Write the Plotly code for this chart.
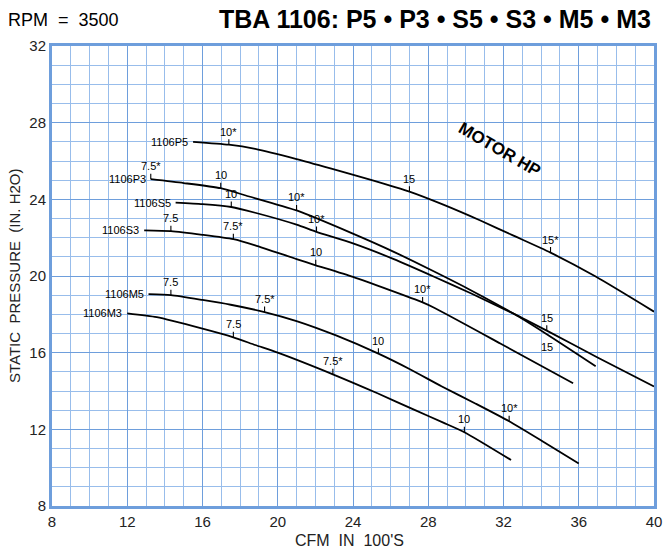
import plotly.graph_objects as go

# ---------------- data ----------------
P5_x = [15.5, 17.4, 18.8, 21.0, 22.85, 25.0, 27.0, 28.8, 30.8, 32.5, 34.5, 36.9, 40.0]
P5_y = [27.0, 26.85, 26.63, 26.1, 25.6, 25.0, 24.4, 23.72, 22.88, 22.12, 21.22, 19.97, 18.14]

P3_x = [13.25, 15.0, 16.97, 18.3, 21.0, 23.9, 26.17, 28.34, 30.26, 32.53, 34.3, 36.9]
P3_y = [25.05, 24.85, 24.58, 24.2, 23.42, 22.25, 21.26, 20.22, 19.26, 18.04, 16.96, 15.29]

S5_x = [14.57, 16.0, 17.53, 18.8, 21.0, 22.06, 24.0, 26.17, 28.34, 30.26, 32.53, 34.3, 37.0, 40.0]
S5_y = [23.83, 23.75, 23.6, 23.3, 22.68, 22.3, 21.7, 20.88, 19.95, 19.1, 18.04, 17.15, 15.75, 14.24]

S3_x = [12.9, 14.32, 16.0, 17.64, 18.8, 21.0, 22.02, 24.0, 27.7, 28.34, 31.83, 35.7]
S3_y = [22.38, 22.34, 22.15, 21.92, 21.6, 20.88, 20.56, 19.95, 18.62, 18.33, 16.48, 14.4]

M5_x = [13.13, 14.32, 16.0, 17.5, 19.3, 21.0, 23.1, 25.35, 27.0, 28.7, 30.5, 32.3, 34.2, 36.0]
M5_y = [19.05, 19.0, 18.75, 18.5, 18.12, 17.65, 16.9, 15.95, 15.15, 14.25, 13.35, 12.42, 11.3, 10.22]

M3_x = [12.0, 13.57, 16.0, 17.64, 18.8, 20.0, 22.93, 25.3, 27.3, 28.8, 29.92, 32.4]
M3_y = [18.05, 17.85, 17.25, 16.8, 16.4, 16.0, 14.87, 13.88, 13.0, 12.35, 11.85, 10.4]

curve_names = ["1106P5", "1106P3", "1106S5", "1106S3", "1106M5", "1106M3"]

# motor HP marks: x, y, label, side
P5_hp = ([17.4, 27.0, 34.5], [26.85, 24.4, 21.22], ["10*", "15", "15*"], ["up", "up", "up"])
P3_hp = ([13.25, 16.97, 21.0, 34.3], [25.05, 24.58, 23.42, 16.96], ["7.5*", "10", "10*", "15"], ["up", "up", "up", "down"])
S5_hp = ([17.53, 22.06, 34.3], [23.6, 22.3, 17.15], ["10", "10*", "15"], ["up", "up", "up"])
S3_hp = ([14.32, 17.64, 22.02, 27.7], [22.34, 21.92, 20.56, 18.62], ["7.5", "7.5*", "10", "10*"], ["up", "up", "up", "up"])
M5_hp = ([14.32, 19.3, 25.35, 32.3], [19.0, 18.12, 15.95, 12.42], ["7.5", "7.5*", "10", "10*"], ["up", "up", "up", "up"])
M3_hp = ([17.64, 22.93, 29.92], [16.8, 14.87, 11.85], ["7.5", "7.5*", "10"], ["up", "up", "up"])

x_ticks = [8, 12, 16, 20, 24, 28, 32, 36, 40]
y_ticks = [8, 12, 16, 20, 24, 28, 32]

title_text = "TBA 1106: P5 • P3 • S5 • S3 • M5 • M3"
rpm_text = "RPM  =  3500"
x_title = "CFM  IN  100'S"
y_title = "STATIC  PRESSURE  (IN. H2O)"
motor_text = "MOTOR HP"

# ---------------- figure ----------------
FONT = "Liberation Sans, Arial, Helvetica, sans-serif"
MAJOR = "#6e9edc"
MINOR = "#98bdeb"

curves = [(P5_x, P5_y, P5_hp), (P3_x, P3_y, P3_hp), (S5_x, S5_y, S5_hp),
          (S3_x, S3_y, S3_hp), (M5_x, M5_y, M5_hp), (M3_x, M3_y, M3_hp)]

fig = go.Figure()
annotations = []
for name, (xs, ys, hp) in zip(curve_names, curves):
    fig.add_trace(go.Scatter(x=xs, y=ys, mode="lines",
                             line=dict(color="black", width=1.8, shape="spline", smoothing=0.6),
                             hoverinfo="skip"))
    annotations.append(dict(x=xs[0], y=ys[0], xref="x", yref="y", text=name,
                            showarrow=False, xanchor="right", yanchor="middle", xshift=-3,
                            font=dict(family=FONT, size=11, color="black")))
    for hx, hy, ht, side in zip(*hp):
        if side == "up":
            annotations.append(dict(x=hx, y=hy, xref="x", yref="y", text=ht,
                                    showarrow=True, arrowhead=0, arrowwidth=1.1, arrowcolor="black",
                                    ax=0, ay=-13, standoff=0,
                                    font=dict(family=FONT, size=11, color="black")))
        else:
            annotations.append(dict(x=hx, y=hy, xref="x", yref="y", text=ht,
                                    showarrow=False, yshift=-13,
                                    font=dict(family=FONT, size=11, color="black")))

annotations += [
    dict(xref="paper", yref="paper", x=1, y=1, xanchor="right", yanchor="middle",
         yshift=27, xshift=-1, text="<b>" + title_text + "</b>", showarrow=False,
         font=dict(family=FONT, size=25, color="black")),
    dict(xref="paper", yref="paper", x=0, y=1, xanchor="left", yanchor="middle",
         yshift=26, xshift=-46, text=rpm_text, showarrow=False,
         font=dict(family=FONT, size=18, color="black")),
    dict(xref="paper", yref="paper", x=0.5, y=0, xanchor="center", yanchor="middle",
         yshift=-34, xshift=-4, text=x_title, showarrow=False,
         font=dict(family=FONT, size=16, color="#222")),
    dict(xref="paper", yref="paper", x=0, y=0.5, xanchor="center", yanchor="middle",
         xshift=-38, text=y_title, textangle=-90, showarrow=False,
         font=dict(family=FONT, size=15, color="#222")),
    dict(xref="x", yref="y", x=31.78, y=26.6, text="<b>" + motor_text + "</b>",
         textangle=30, showarrow=False, font=dict(family=FONT, size=17, color="black")),
]

axis_common = dict(showgrid=True, gridcolor=MAJOR, gridwidth=1.3,
                   minor=dict(dtick=1, showgrid=True, gridcolor=MINOR, gridwidth=1),
                   showline=True, linecolor=MAJOR, linewidth=3, mirror=True,
                   zeroline=False, ticks="", tickfont=dict(family=FONT, size=15, color="#222"),
                   fixedrange=True)

fig.update_xaxes(range=[8, 40], tickvals=x_ticks, ticktext=[str(v) for v in x_ticks], **axis_common)
fig.update_yaxes(range=[8, 32], tickvals=y_ticks, ticktext=[str(v) for v in y_ticks], **axis_common)

fig.update_layout(width=668, height=550, margin=dict(l=52, r=6, t=46, b=44),
                  paper_bgcolor="white", plot_bgcolor="white", showlegend=False,
                  annotations=annotations)

fig.write_html("out.html", config={"displayModeBar": False},
               post_script="document.body.style.margin='0';document.body.style.overflow='hidden';")
